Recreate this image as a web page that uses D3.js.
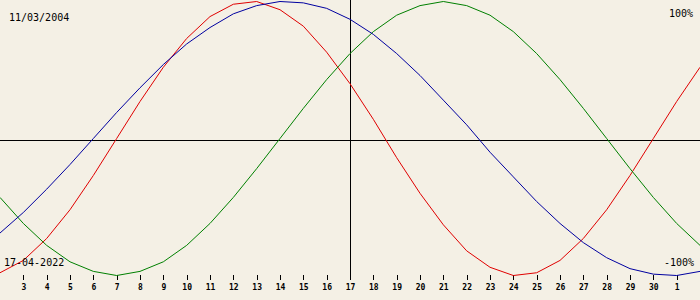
<!DOCTYPE html>
<html>
<head>
<meta charset="utf-8">
<script src="https://cdn.jsdelivr.net/npm/d3@7/dist/d3.min.js"></script>
<style>
html,body{margin:0;padding:0;background:#f4f0e5;}
svg{display:block;}
text{font-family:"DejaVu Sans Mono",monospace;fill:#000;}
</style>
</head>
<body>
<svg id="chart" width="700" height="300"></svg>
<script>
// Day offsets from 2 April 2022 (0) to 2 May 2022 (30)
const dayOffsets = d3.range(0, 31);
const dayLabels = ["", "3","4","5","6","7","8","9","10","11","12","13","14","15","16","17","18","19","20","21","22","23","24","25","26","27","28","29","30","1",""];
// Biorhythm values in percent
const physical = [-98,-89,-73,-52,-27,0,27,52,73,89,98,100,94,82,63,40,14,-14,-40,-63,-82,-94,-100,-98,-89,-73,-52,-27,0,27,52];
const emotional = [-43,-62,-78,-90,-97,-100,-97,-90,-78,-62,-43,-22,0,22,43,62,78,90,97,100,97,90,78,62,43,22,0,-22,-43,-62,-78];
const intellectual = [-69,-54,-37,-19,0,19,37,54,69,81,91,97,100,99,95,87,76,62,46,28,10,-10,-28,-46,-62,-76,-87,-95,-99,-100,-97];
const birthDate = "11/03/2004";
const currentDate = "17-04-2022";
const topLabel = "100%";
const bottomLabel = "-100%";
const todayOffset = 15;

const W = 700, H = 300;
const svg = d3.select("#chart");
svg.append("rect").attr("width", W).attr("height", H).attr("fill", "#f4f0e5");

const x = d3.scaleLinear().domain([0, 30]).range([0, 700]);
const y = d3.scaleLinear().domain([-100, 100]).range([275.5, 1.5]);

// horizontal mid line
svg.append("line").attr("x1", 0).attr("x2", W).attr("y1", 140.5).attr("y2", 140.5)
  .attr("stroke", "#000").attr("stroke-width", 1).attr("shape-rendering", "crispEdges");
// vertical today line
svg.append("line").attr("x1", Math.round(x(todayOffset)) + 0.5).attr("x2", Math.round(x(todayOffset)) + 0.5)
  .attr("y1", 0).attr("y2", 280)
  .attr("stroke", "#000").attr("stroke-width", 1).attr("shape-rendering", "crispEdges");

// axis ticks
const axis = d3.axisBottom(x)
  .tickValues(dayOffsets.filter(d => dayLabels[d] !== ""))
  .tickFormat(d => dayLabels[d])
  .tickSize(5)
  .tickPadding(4);
const ag = svg.append("g").attr("transform", "translate(0,275)").call(axis);
ag.select(".domain").remove();
ag.selectAll(".tick line").attr("stroke", "#000").attr("shape-rendering", "crispEdges");
ag.selectAll(".tick text").attr("font-family", "DejaVu Sans Mono").attr("font-size", 8)
  .attr("font-weight", "bold").attr("fill", "#000");

const line = d3.line().x((d, i) => x(dayOffsets[i])).y(d => y(d)).curve(d3.curveLinear);
const series = [
  {vals: physical, color: "#e00000"},
  {vals: emotional, color: "#008000"},
  {vals: intellectual, color: "#0000a0"}
];
series.forEach(s => {
  svg.append("path").attr("d", line(s.vals)).attr("fill", "none")
    .attr("stroke", s.color).attr("stroke-width", 1);
});

svg.append("text").attr("x", 9).attr("y", 21).attr("font-size", 10).text(birthDate);
svg.append("text").attr("x", 693).attr("y", 17).attr("font-size", 10).attr("text-anchor", "end").text(topLabel);
svg.append("text").attr("x", 4).attr("y", 266).attr("font-size", 10).text(currentDate);
svg.append("text").attr("x", 694).attr("y", 266).attr("font-size", 10).attr("text-anchor", "end").text(bottomLabel);
</script>
</body>
</html>
